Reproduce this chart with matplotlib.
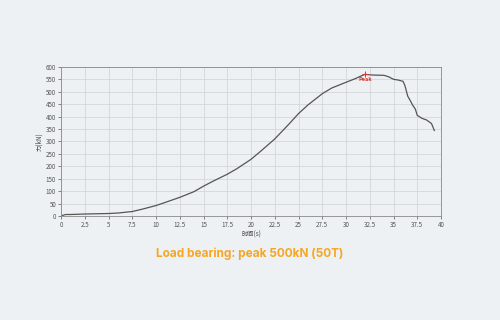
import matplotlib
matplotlib.use("Agg")
import matplotlib.pyplot as plt

plt.rcParams['font.family'] = ['Noto Sans CJK SC', 'DejaVu Sans']

time_s = [0, 0.3, 0.5, 1, 2.5, 5, 6, 7.5, 8.5, 10, 11, 12.5, 14, 15, 16, 17.5, 18.5,
          20, 21, 22.5, 24, 25, 26, 27.5, 28.5, 30, 31, 31.5, 32, 32.5, 33, 34, 34.5,
          35, 35.5, 36, 36.2, 36.5, 36.8, 37, 37.3, 37.5, 38, 38.5, 39, 39.3]
force_kn = [0, 4, 6, 6, 8, 10, 12, 18, 27, 42, 55, 75, 98, 120, 140, 168, 190,
            228, 260, 310, 370, 412, 447, 492, 515, 538, 553, 562, 570, 568, 567, 566, 560,
            550, 547, 542, 525, 482, 462, 447, 430, 405, 393, 386, 372, 344]
peak_t = 32
peak_f = 572
x_ticks = [0, 2.5, 5, 7.5, 10, 12.5, 15, 17.5, 20, 22.5, 25, 27.5, 30, 32.5, 35, 37.5, 40]
x_labels = ["0", "2.5", "5", "7.5", "10", "12.5", "15", "17.5", "20", "22.5", "25",
            "27.5", "30", "32.5", "35", "37.5", "40"]
y_ticks = list(range(0, 601, 50))
title = "Load bearing: peak 500kN (50T)"

bg = "#edf1f4"
fig = plt.figure(figsize=(5, 3.2), dpi=100, facecolor=bg)
ax = fig.add_axes([0.122, 0.325, 0.76, 0.466], facecolor=bg)
ax.plot(time_s, force_kn, color="#555555", lw=0.9)
ax.plot([peak_t], [peak_f], marker="+", color="#e0302a", ms=4, mew=0.7)
ax.text(peak_t, peak_f - 12, "Peak", color="#e0302a", fontsize=4, ha="center", va="top",
        fontweight="bold")
ax.set_xlim(0, 40)
ax.set_ylim(0, 600)
ax.set_xticks(x_ticks)
ax.set_xticklabels(x_labels)
ax.set_yticks(y_ticks)
ax.tick_params(labelsize=4.5, length=2, width=0.5, colors="#555555", pad=1.5)
ax.grid(True, color="#d4d7da", lw=0.6)
for s in ax.spines.values():
    s.set_color("#888888")
    s.set_linewidth(0.6)
ax.set_xlabel("时间(s)", fontsize=4.5, color="#444444", labelpad=1)
ax.set_ylabel("力(kN)", fontsize=4.5, color="#444444", labelpad=2)
fig.text(0.5, 0.206, title, color="#f5a623", fontsize=8.5, fontweight="bold",
         ha="center", va="center", family=["Inter", "DejaVu Sans"])
fig.savefig("out.png", dpi=100, facecolor=bg)
